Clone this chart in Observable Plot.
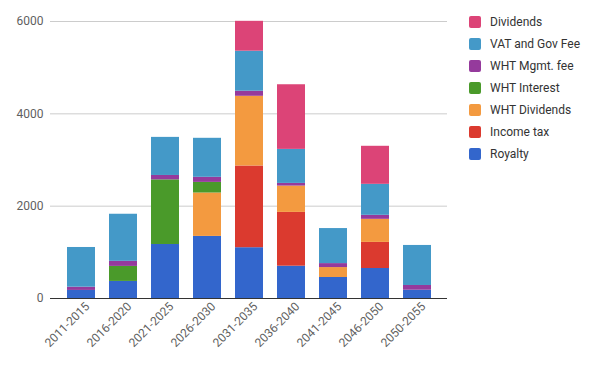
<!DOCTYPE html>
<html>
<head>
<meta charset="utf-8">
<script src="https://cdn.jsdelivr.net/npm/d3@7"></script>
<script src="https://cdn.jsdelivr.net/npm/@observablehq/plot@0.6"></script>
<style>
  html, body { margin: 0; padding: 0; background: #fff; }
  #wrap { position: relative; width: 596px; height: 367px; font-family: Roboto, Arial, sans-serif; }
  #legend { position: absolute; left: 469px; top: 11px; }
  .item { display: flex; align-items: center; height: 22px; font-size: 12px; color: #333; }
  .sw { width: 12px; height: 12px; border-radius: 2px; margin-right: 9px; }
</style>
</head>
<body>
<div id="wrap"><div id="legend"></div></div>
<script>
const periods = ["2011-2015","2016-2020","2021-2025","2026-2030","2031-2035","2036-2040","2041-2045","2046-2050","2050-2055"];
const royalty      = [175, 370, 1170, 1345, 1100, 700, 455, 650, 180];
const incomeTax    = [0, 0, 0, 0, 1770, 1165, 0, 565, 0];
const whtDividends = [0, 0, 0, 940, 1510, 570, 215, 500, 0];
const whtInterest  = [0, 325, 1400, 230, 0, 0, 0, 0, 0];
const whtMgmt      = [70, 110, 95, 110, 110, 58, 86, 87, 102];
const vatGovFee    = [860, 1020, 825, 845, 867, 737, 759, 671, 867];
const dividends    = [0, 0, 0, 0, 647, 1400, 0, 824, 0];
const yTicks = [0, 2000, 4000, 6000];

const seriesNames = ["Royalty","Income tax","WHT Dividends","WHT Interest","WHT Mgmt. fee","VAT and Gov Fee","Dividends"];
const seriesValues = [royalty, incomeTax, whtDividends, whtInterest, whtMgmt, vatGovFee, dividends];
const colors = ["#3366cc","#db3a2f","#f39a40","#4a9a2a","#953a9c","#4499c8","#dc4477"];

const data = [];
seriesNames.forEach((s, i) => periods.forEach((p, j) => data.push({period: p, series: s, value: seriesValues[i][j]})));

const chart = Plot.plot({
  width: 596,
  height: 367,
  marginLeft: 50,
  marginRight: 149,
  marginTop: 21,
  marginBottom: 69,
  style: {fontFamily: "Roboto, Arial, sans-serif", fontSize: "12px", color: "#5f5f5f", background: "#fff"},
  x: {type: "band", domain: periods, padding: 0.34, label: null},
  y: {domain: [0, 6000], label: null},
  color: {domain: seriesNames, range: colors},
  marks: [
    Plot.gridY(yTicks, {stroke: "#cccccc", strokeOpacity: 1}),
    Plot.barY(data, {x: "period", y: "value", fill: "series", order: seriesNames}),
    Plot.ruleY([0], {stroke: "#333"}),
    Plot.axisY(yTicks, {tickSize: 0, tickPadding: 7, tickFormat: d => String(d), label: null}),
    Plot.axisX({tickSize: 0, tickRotate: -45, tickPadding: 6, dx: 6, label: null})
  ]
});
document.getElementById("wrap").prepend(chart);
chart.style.position = "absolute"; chart.style.left = "0"; chart.style.top = "0";

const legend = document.getElementById("legend");
for (let i = seriesNames.length - 1; i >= 0; i--) {
  const it = document.createElement("div");
  it.className = "item";
  const sw = document.createElement("div");
  sw.className = "sw";
  sw.style.background = colors[i];
  const t = document.createElement("span");
  t.textContent = seriesNames[i];
  it.append(sw, t);
  legend.append(it);
}
</script>
</body>
</html>
